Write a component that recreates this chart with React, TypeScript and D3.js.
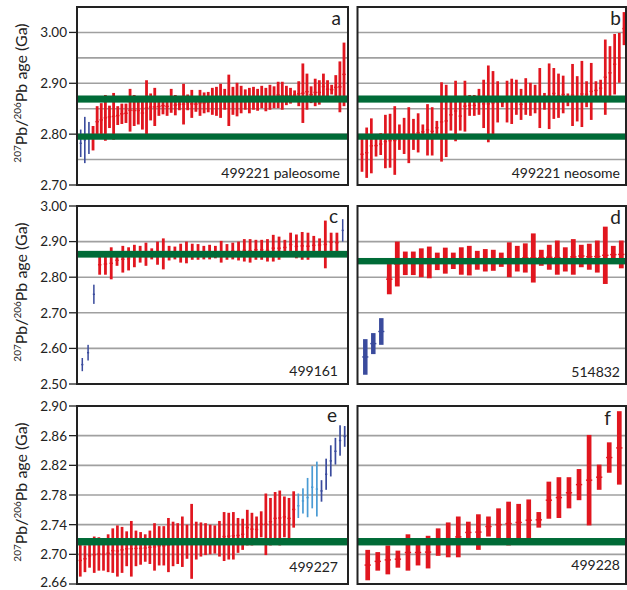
import React from "react";
import * as d3 from "d3";

type Bar = [number, number]; // [upper age, lower age] in Ga

// ---------- data ----------
const aBars: Bar[] = [
  [2.809, 2.755], [2.834, 2.743], [2.824, 2.761],
  [2.816, 2.768], [2.855, 2.794], [2.861, 2.795], [2.877, 2.787], [2.856, 2.812], [2.881, 2.789], [2.855, 2.818], [2.860, 2.820], [2.860, 2.822], [2.889, 2.805],
  [2.877, 2.816], [2.874, 2.819], [2.874, 2.809], [2.906, 2.797], [2.880, 2.827], [2.891, 2.816], [2.873, 2.836], [2.873, 2.839], [2.873, 2.836], [2.889, 2.842],
  [2.877, 2.837], [2.870, 2.847], [2.899, 2.819], [2.878, 2.847], [2.887, 2.832], [2.874, 2.844], [2.887, 2.836], [2.882, 2.841], [2.883, 2.843],
  [2.891, 2.838], [2.893, 2.836], [2.899, 2.832], [2.889, 2.848], [2.917, 2.816], [2.893, 2.838], [2.901, 2.835], [2.895, 2.841], [2.888, 2.848], [2.891, 2.841],
  [2.893, 2.848], [2.889, 2.846], [2.895, 2.851], [2.891, 2.845], [2.897, 2.848], [2.894, 2.851], [2.903, 2.851], [2.903, 2.848], [2.895, 2.857], [2.891, 2.860],
  [2.886, 2.868], [2.904, 2.855], [2.939, 2.822], [2.919, 2.848], [2.894, 2.861], [2.909, 2.855], [2.906, 2.858], [2.919, 2.868], [2.906, 2.871], [2.897, 2.878],
  [2.916, 2.868], [2.943, 2.843], [2.980, 2.855],
];
const aTypes = "bbb" + "r".repeat(62);

const bBars: Bar[] = [
  [2.795, 2.726], [2.813, 2.714], [2.831, 2.723], [2.799, 2.756], [2.802, 2.759], [2.838, 2.733], [2.840, 2.734], [2.855, 2.720], [2.819, 2.769], [2.832, 2.761],
  [2.853, 2.743], [2.830, 2.769], [2.841, 2.764], [2.819, 2.790], [2.859, 2.758], [2.853, 2.758], [2.826, 2.799], [2.902, 2.746], [2.897, 2.755], [2.869, 2.807],
  [2.905, 2.786], [2.864, 2.807], [2.905, 2.805], [2.877, 2.836], [2.877, 2.836], [2.889, 2.838], [2.907, 2.812], [2.935, 2.784], [2.924, 2.799], [2.904, 2.823],
  [2.871, 2.853], [2.905, 2.823], [2.909, 2.820], [2.907, 2.838], [2.889, 2.828], [2.910, 2.838], [2.901, 2.836], [2.897, 2.841], [2.930, 2.812], [2.881, 2.848],
  [2.939, 2.810], [2.930, 2.830], [2.919, 2.832], [2.915, 2.841], [2.880, 2.855], [2.938, 2.816], [2.914, 2.825], [2.944, 2.814], [2.904, 2.853], [2.940, 2.828],
  [2.904, 2.868], [2.907, 2.874], [2.986, 2.838], [2.973, 2.868], [2.997, 2.878], [2.999, 2.901], [3.040, 2.975],
];
const bTypes = "r".repeat(57);

const cBars: Bar[] = [
  [2.573, 2.536], [2.610, 2.566], [2.779, 2.725],
  [2.863, 2.807], [2.867, 2.807], [2.884, 2.794], [2.863, 2.832], [2.888, 2.813], [2.884, 2.819], [2.891, 2.828], [2.888, 2.841], [2.897, 2.832], [2.881, 2.850],
  [2.900, 2.835], [2.909, 2.822], [2.888, 2.847], [2.886, 2.850], [2.894, 2.841], [2.900, 2.839], [2.894, 2.849], [2.893, 2.849], [2.888, 2.850], [2.891, 2.850],
  [2.888, 2.853], [2.902, 2.841], [2.893, 2.849], [2.897, 2.850], [2.900, 2.847], [2.907, 2.844], [2.907, 2.841], [2.905, 2.849], [2.905, 2.849], [2.907, 2.844],
  [2.919, 2.844], [2.914, 2.849], [2.905, 2.862], [2.925, 2.858], [2.920, 2.853], [2.927, 2.849], [2.925, 2.849], [2.916, 2.863], [2.909, 2.872], [2.959, 2.825],
  [2.925, 2.872], [2.925, 2.869], [2.963, 2.900],
];
const cTypes = "bbb" + "r".repeat(42) + "b";

const dBars: Bar[] = [
  [2.626, 2.526], [2.643, 2.584], [2.685, 2.610],
  [2.837, 2.752], [2.900, 2.774], [2.872, 2.806], [2.872, 2.806], [2.881, 2.800], [2.886, 2.797], [2.869, 2.820], [2.883, 2.810], [2.869, 2.823], [2.884, 2.807],
  [2.888, 2.805], [2.874, 2.821], [2.879, 2.816], [2.877, 2.818], [2.869, 2.829], [2.898, 2.800], [2.888, 2.816], [2.895, 2.813], [2.923, 2.785], [2.877, 2.832],
  [2.891, 2.821], [2.903, 2.807], [2.884, 2.816], [2.907, 2.807], [2.891, 2.828], [2.894, 2.821], [2.903, 2.813], [2.942, 2.781], [2.888, 2.839], [2.903, 2.825],
];
const dTypes = "bbb" + "r".repeat(30);

const eBars: Bar[] = [
  [2.7135, 2.670], [2.712, 2.676], [2.714, 2.682], [2.724, 2.675], [2.723, 2.678], [2.722, 2.678], [2.727, 2.676], [2.735, 2.675], [2.739, 2.670], [2.737, 2.675],
  [2.731, 2.684], [2.745, 2.670], [2.732, 2.684], [2.730, 2.686], [2.727, 2.690], [2.732, 2.687], [2.742, 2.678], [2.738, 2.685], [2.738, 2.685], [2.749, 2.676],
  [2.744, 2.684], [2.742, 2.687], [2.751, 2.683], [2.740, 2.694], [2.768, 2.667], [2.744, 2.693], [2.743, 2.697], [2.742, 2.699], [2.740, 2.700], [2.739, 2.701],
  [2.745, 2.697], [2.757, 2.691], [2.756, 2.693], [2.757, 2.693], [2.749, 2.702], [2.748, 2.706], [2.760, 2.712], [2.756, 2.712], [2.751, 2.716], [2.758, 2.723],
  [2.782, 2.699], [2.776, 2.712], [2.784, 2.713], [2.786, 2.712], [2.778, 2.723], [2.776, 2.721], [2.785, 2.736],
  [2.782, 2.749], [2.789, 2.755], [2.803, 2.750], [2.819, 2.762], [2.825, 2.751],
  [2.800, 2.771], [2.829, 2.787], [2.847, 2.805], [2.857, 2.821], [2.874, 2.833], [2.873, 2.845],
];
const eTypes = "r".repeat(47) + "l".repeat(5) + "b".repeat(6);

const fBars: Bar[] = [
  [2.706, 2.665], [2.703, 2.678], [2.712, 2.673], [2.705, 2.682], [2.727, 2.678], [2.720, 2.685], [2.725, 2.681], [2.735, 2.698], [2.743, 2.696], [2.751, 2.696],
  [2.744, 2.715], [2.754, 2.706], [2.751, 2.724], [2.762, 2.718], [2.771, 2.712], [2.768, 2.718], [2.774, 2.718], [2.757, 2.736], [2.798, 2.748], [2.804, 2.749],
  [2.804, 2.762], [2.815, 2.773], [2.861, 2.739], [2.821, 2.787], [2.851, 2.810], [2.893, 2.794],
];
const fTypes = "r".repeat(26);

const abGrid = [2.75, 2.8, 2.85, 2.9, 2.95, 3.0];
const abTicks = [2.7, 2.8, 2.9, 3.0];
const cdGrid = [2.6, 2.7, 2.8, 2.9];
const cdTicks = [2.5, 2.6, 2.7, 2.8, 2.9, 3.0];
const efGrid = [2.7, 2.74, 2.78, 2.82, 2.86];
const efTicks = [2.66, 2.7, 2.74, 2.78, 2.82, 2.86, 2.9];

const aBands: Bar[] = [[2.876, 2.862], [2.801, 2.789]];
const bBands: Bar[] = [[2.876, 2.862], [2.801, 2.789]];
const cBands: Bar[] = [[2.874, 2.855]];
const dBands: Bar[] = [[2.854, 2.836]];
const eBands: Bar[] = [[2.722, 2.712]];
const fBands: Bar[] = [[2.722, 2.712]];

// ---------- styling ----------
const RED = "#e1161f";
const DBLUE = "#3a4b9d";
const LBLUE = "#4a9bd4";
const GREEN = "#006b37";
const GRID = "#a0a0a0";
const INK = "#222";
const FONT = "Lato, 'Open Sans', sans-serif";

type PanelCfg = {
  id: string;
  bars: Bar[];
  types: string;
  x0: number; x1: number; y0: number; y1: number;
  domain: [number, number];
  grid: number[];
  ticks: number[];
  bands: Bar[];
  barRange: [number, number];
  redW: number; blueW: number;
  letter: string; letterX: number; letterY: number;
  sample: string; sampleX: number; sampleY: number;
  left: boolean;
};

const f2 = d3.format(".2f");

const panels: PanelCfg[] = [
  { id: "a", bars: aBars, types: aTypes, x0: 77, x1: 348, y0: 7, y1: 185, domain: [2.7, 3.05], grid: abGrid, ticks: abTicks, bands: aBands, barRange: [80.7, 344], redW: 2.8, blueW: 1.6, letter: "a", letterX: 341, letterY: 25, sample: "499221 paleosome", sampleX: 340, sampleY: 178, left: true },
  { id: "b", bars: bBars, types: bTypes, x0: 357.5, x1: 626, y0: 7, y1: 185, domain: [2.7, 3.05], grid: abGrid, ticks: [], bands: bBands, barRange: [362, 624], redW: 2.7, blueW: 1.6, letter: "b", letterX: 621, letterY: 25, sample: "499221 neosome", sampleX: 620, sampleY: 178, left: false },
  { id: "c", bars: cBars, types: cTypes, x0: 77, x1: 348, y0: 206, y1: 384, domain: [2.5, 3.0], grid: cdGrid, ticks: cdTicks, bands: cBands, barRange: [82.3, 342.7], redW: 2.8, blueW: 1.5, letter: "c", letterX: 338, letterY: 223, sample: "499161", sampleX: 338, sampleY: 376, left: true },
  { id: "d", bars: dBars, types: dTypes, x0: 357.5, x1: 626, y0: 206, y1: 384, domain: [2.5, 3.0], grid: cdGrid, ticks: [], bands: dBands, barRange: [365.3, 621.3], redW: 4.8, blueW: 4.5, letter: "d", letterX: 621, letterY: 224, sample: "514832", sampleX: 620, sampleY: 377, left: false },
  { id: "e", bars: eBars, types: eTypes, x0: 77, x1: 348, y0: 406, y1: 584, domain: [2.66, 2.9], grid: efGrid, ticks: efTicks, bands: eBands, barRange: [80.3, 344.7], redW: 2.7, blueW: 1.7, letter: "e", letterX: 337, letterY: 422, sample: "499227", sampleX: 338, sampleY: 572, left: true },
  { id: "f", bars: fBars, types: fTypes, x0: 357.5, x1: 626, y0: 406, y1: 584, domain: [2.66, 2.9], grid: efGrid, ticks: [], bands: fBands, barRange: [367.7, 619.3], redW: 4.7, blueW: 4.5, letter: "f", letterX: 611, letterY: 425, sample: "499228", sampleX: 620, sampleY: 570, left: false },
];

function colorOf(t: string) {
  if (t === "b") return DBLUE;
  if (t === "l") return LBLUE;
  return RED;
}

function Panel({ p }: { p: PanelCfg }) {
  const y = d3.scaleLinear().domain(p.domain).range([p.y1, p.y0]);
  const x = d3.scalePoint<number>().domain(d3.range(p.bars.length)).range(p.barRange);
  const clipId = `clip-${p.id}`;
  const midY = (p.y0 + p.y1) / 2 - 3;
  return (
    <g>
      <defs>
        <clipPath id={clipId}>
          <rect x={p.x0} y={p.y0} width={p.x1 - p.x0} height={p.y1 - p.y0} />
        </clipPath>
      </defs>
      <rect x={p.x0} y={p.y0} width={p.x1 - p.x0} height={p.y1 - p.y0} fill="#fff" />
      {p.grid.map((g) => (
        <line key={g} x1={p.x0} x2={p.x1} y1={y(g)} y2={y(g)} stroke={GRID} strokeWidth={1.6} />
      ))}
      <g clipPath={`url(#${clipId})`}>
        {p.bars.map((b, i) => {
          const t = p.types[i];
          const w = t === "r" ? p.redW : p.blueW;
          const cx = x(i) as number;
          const yt = y(b[0]);
          const yb = y(b[1]);
          const col = colorOf(t);
          const cy = (yt + yb) / 2;
          const nub = w > 4 ? 1.6 : 0.6;
          return (
            <g key={i}>
              <rect x={cx - w / 2} y={yt} width={w} height={yb - yt} fill={col} />
              <rect x={cx - w / 2 - nub / 2} y={cy - 0.7} width={w + nub} height={1.4} fill={col} />
            </g>
          );
        })}
        {p.bands.map((bd, i) => (
          <rect key={i} x={p.x0} y={y(bd[0])} width={p.x1 - p.x0} height={y(bd[1]) - y(bd[0])} fill={GREEN} />
        ))}
      </g>
      <rect x={p.x0} y={p.y0} width={p.x1 - p.x0} height={p.y1 - p.y0} fill="none" stroke={INK} strokeWidth={2} />
      {p.ticks.map((t, i) => {
        const last = i === 0 && y(t) > 580;
        return (
          <g key={t}>
            <line x1={p.x0 - 8} x2={p.x0} y1={y(t)} y2={y(t)} stroke={INK} strokeWidth={1.3} />
            <text x={p.x0 - 10} y={y(t) - (last ? 2 : 0)} dy="0.36em" textAnchor="end" fontSize={13.5} fill={INK} fontFamily={FONT}>
              {f2(t)}
            </text>
          </g>
        );
      })}
      <text x={p.letterX} y={p.letterY} textAnchor="end" fontSize={19} fill={INK} fontFamily={FONT}>
        {p.letter}
      </text>
      <text x={p.sampleX} y={p.sampleY} textAnchor="end" fontSize={14} fill={INK} fontFamily={FONT}>
        {p.sample}
      </text>
      {p.left && (
        <text transform={`translate(27,${midY}) rotate(-90)`} textAnchor="middle" fontSize={16} fill={INK} fontFamily={FONT}>
          <tspan fontSize={10} dy={-6}>207</tspan>
          <tspan dy={6}>Pb/</tspan>
          <tspan fontSize={10} dy={-6}>206</tspan>
          <tspan dy={6}>Pb age (Ga)</tspan>
        </text>
      )}
    </g>
  );
}

export default function App() {
  return (
    <svg width={627} height={590} style={{ position: "absolute", left: 0, top: 0, background: "#fff" }}>
      <rect width={627} height={590} fill="#fff" />
      {panels.map((p) => (
        <Panel key={p.id} p={p} />
      ))}
    </svg>
  );
}
